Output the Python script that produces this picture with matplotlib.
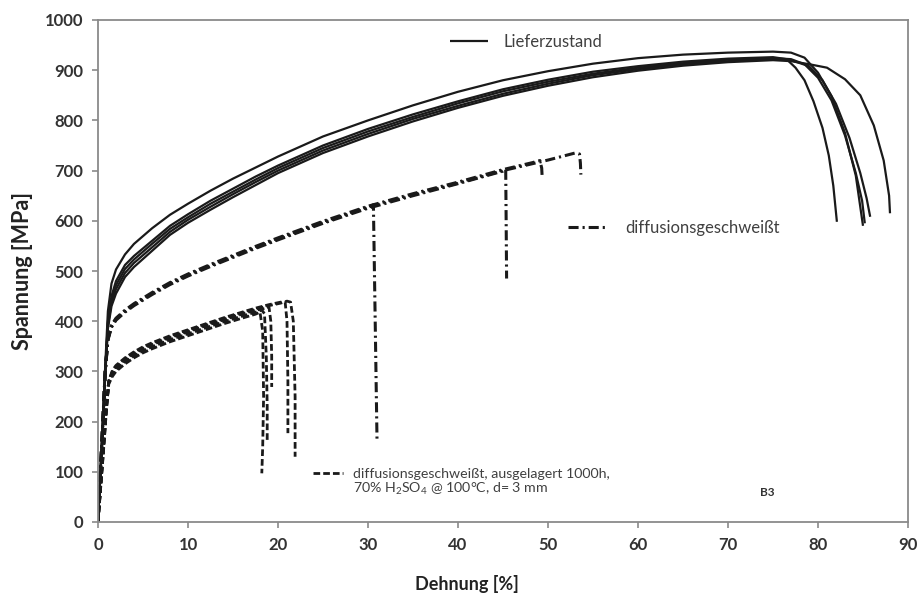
import matplotlib
matplotlib.use("Agg")
import matplotlib.pyplot as plt
from matplotlib.lines import Line2D

plt.rcParams['font.family'] = ['Lato', 'DejaVu Sans']
plt.rcParams['mathtext.fontset'] = 'custom'
plt.rcParams['mathtext.rm'] = 'Lato'

# --- Lieferzustand (solid), rising part on a shared strain grid
lief_x = [0, 0.4, 0.8, 1.1, 1.5, 2, 3, 4, 6, 8, 10, 12.5, 15, 17.5, 20, 25, 30,
          35, 40, 45, 50, 55, 60, 65, 70, 75]
lief_top = [0, 150, 310, 420, 475, 503, 533, 554, 585, 612, 634, 660, 684, 706, 728,
            768, 800, 830, 857, 880, 898, 913, 924, 931, 935, 937]
lief_b1 = [0, 145, 300, 400, 450, 480, 512, 530, 560, 590, 613, 640, 664, 688, 710,
           750, 783, 812, 838, 862, 881, 897, 908, 917, 923, 926]
lief_b2 = [0, 145, 300, 395, 443, 472, 504, 523, 554, 584, 607, 634, 658, 682, 705,
           745, 778, 807, 834, 858, 877, 893, 905, 914, 921, 924]
lief_b3 = [0, 140, 295, 390, 437, 464, 496, 516, 547, 578, 602, 628, 653, 677, 700,
           740, 773, 803, 829, 853, 873, 890, 902, 912, 918, 922]
lief_b4 = [0, 140, 290, 385, 430, 455, 488, 508, 540, 572, 596, 622, 647, 671, 695,
           735, 768, 798, 825, 849, 869, 886, 899, 909, 916, 920]
# failure tails
tail_top_x = [77, 78.5, 80, 81.5, 83, 84.2, 85]
tail_top_y = [935, 925, 895, 848, 775, 690, 590]
tail_b1_x = [76.5, 77.5, 78.5, 79.5, 80.5, 81.2, 81.7, 82.1]
tail_b1_y = [922, 905, 880, 838, 785, 730, 670, 598]
tail_b2_x = [77, 78.5, 80, 81.5, 83, 84.2, 84.9, 85.2]
tail_b2_y = [922, 912, 885, 840, 770, 695, 640, 595]
tail_b3_x = [77, 79, 80.5, 82, 83.5, 84.7, 85.4, 85.8]
tail_b3_y = [920, 908, 880, 833, 765, 695, 645, 608]
tail_b4_x = [77, 79, 81, 83, 84.7, 86.2, 87.3, 87.9, 88]
tail_b4_y = [918, 912, 905, 882, 850, 790, 720, 650, 615]

# --- diffusionsgeschweisst (dash-dot)
dd_x = [0, 0.4, 0.8, 1.1, 1.5, 2, 3, 4, 6, 8, 10, 12.5, 15, 17.5, 20, 25, 30,
        35, 40, 45, 50, 53]
dd1_y = [0, 150, 300, 365, 390, 404, 420, 433, 455, 475, 492, 511, 529, 547, 564, 597, 627]
dd2_y = [0, 148, 298, 362, 388, 402, 418, 431, 453, 473, 490, 509, 527, 545, 562, 595, 625,
         650, 674, 699]
dd3_y = [0, 150, 300, 366, 392, 406, 422, 435, 457, 477, 494, 513, 531, 549, 566, 599, 629,
         654, 677, 702]
dd4_y = [0, 149, 299, 364, 390, 404, 420, 433, 455, 475, 492, 511, 529, 547, 564, 597, 627,
         652, 675, 700, 721, 735]
dd1_tail_x = [30.6, 30.8, 31.0]
dd1_tail_y = [632, 400, 165]
dd2_tail_x = [45.3, 45.35, 45.4]
dd2_tail_y = [703, 600, 485]
dd3_tail_x = [48.3, 49.1, 49.3, 49.35]
dd3_tail_y = [716, 720, 705, 688]
dd4_tail_x = [53.5, 53.6, 53.65]
dd4_tail_y = [733, 715, 692]

# --- diffusionsgeschweisst, ausgelagert (dashed)
da_x = [0, 0.3, 0.6, 0.9, 1.2, 1.6, 2, 3, 4, 5, 6, 8, 10, 12, 14, 16, 17.5, 19, 20.3]
da1_y = [0, 75, 150, 225, 275, 290, 300, 315, 327, 337, 345, 359, 371, 383, 395, 406, 414]
da2_y = [0, 75, 150, 225, 278, 294, 304, 319, 331, 341, 349, 363, 375, 387, 399, 410, 418]
da3_y = [0, 72, 145, 220, 280, 298, 308, 323, 335, 345, 353, 367, 379, 391, 403, 414, 422]
da4_y = [0, 70, 140, 215, 282, 302, 312, 327, 339, 349, 357, 371, 383, 395, 407, 418, 426,
         433, 438]
da5_y = [0, 70, 140, 215, 280, 300, 310, 325, 337, 347, 355, 369, 381, 393, 405, 416, 424,
         431, 436]
da1_tail_x = [18.0, 18.3, 18.4, 18.3, 18.2]
da1_tail_y = [418, 380, 250, 150, 97]
da2_tail_x = [18.2, 18.5, 18.7, 18.8, 18.8]
da2_tail_y = [422, 415, 330, 230, 163]
da3_tail_x = [18.5, 19.0, 19.2, 19.3, 19.3]
da3_tail_y = [425, 428, 400, 330, 269]
da4_tail_x = [20.8, 21.0, 21.1, 21.1]
da4_tail_y = [437, 400, 280, 177]
da5_tail_x = [21.0, 21.4, 21.7, 21.9, 21.9]
da5_tail_y = [440, 438, 400, 250, 130]

fig = plt.figure(figsize=(9.2, 5.94), dpi=100)
ax = fig.add_axes([98 / 920, 1 - 522 / 594, 810 / 920, 502 / 594])

ink = '#1a1a1a'
solid = dict(color=ink, lw=1.6, solid_capstyle='butt')
dashdot = dict(color=ink, lw=2.2, dashes=(3.3, 1.3, 0.7, 1.3))
dashed = dict(color=ink, lw=2.0, dashes=(2.4, 1.1))

for ys, tx, ty in [(lief_b4, tail_b4_x, tail_b4_y), (lief_b3, tail_b3_x, tail_b3_y),
                   (lief_b2, tail_b2_x, tail_b2_y), (lief_b1, tail_b1_x, tail_b1_y),
                   (lief_top, tail_top_x, tail_top_y)]:
    ax.plot(lief_x + tx, ys + ty, **solid)

for ys, tx, ty in [(dd1_y, dd1_tail_x, dd1_tail_y), (dd2_y, dd2_tail_x, dd2_tail_y),
                   (dd3_y, dd3_tail_x, dd3_tail_y), (dd4_y, dd4_tail_x, dd4_tail_y)]:
    ax.plot(dd_x[:len(ys)] + tx, ys + ty, **dashdot)

for ys, tx, ty in [(da1_y, da1_tail_x, da1_tail_y), (da2_y, da2_tail_x, da2_tail_y),
                   (da3_y, da3_tail_x, da3_tail_y), (da4_y, da4_tail_x, da4_tail_y),
                   (da5_y, da5_tail_x, da5_tail_y)]:
    ax.plot(da_x[:len(ys)] + tx, ys + ty, **dashed)

ax.set_xlim(0, 90)
ax.set_ylim(0, 1000)
ax.set_xticks(range(0, 91, 10))
ax.set_yticks(range(0, 1001, 100))
for s in ax.spines.values():
    s.set_color('#8a8a8a')
    s.set_linewidth(1.3)
ax.tick_params(direction='out', length=4.5, width=1.2, color='#8a8a8a',
               labelsize=12, labelcolor='#333333', pad=6)
for lab in ax.get_xticklabels() + ax.get_yticklabels():
    lab.set_fontweight('bold')

ax.set_xlabel('Dehnung [%]', fontsize=13, fontweight='bold', color='#222222')
ax.set_ylabel('Spannung [MPa]', fontsize=15.5, fontweight='bold', color='#222222')
ax.xaxis.set_label_coords((467 - 98) / 810, -0.105)
ax.yaxis.set_label_coords((33 - 98) / 810, 0.5)

# legends placed inside the plot as in the original
leg_kw = dict(frameon=False, labelcolor='#404040', borderpad=0,
              borderaxespad=0, loc='center left')
l1 = ax.legend([Line2D([], [], **solid)], ['Lieferzustand'], fontsize=12,
               handlelength=2.3, handletextpad=0.9,
               bbox_to_anchor=((450 - 98) / 810, (522 - 42) / 502), **leg_kw)
ax.add_artist(l1)
l2 = ax.legend([Line2D([], [], **dashdot)], ['diffusionsgeschweißt'], fontsize=12,
               handlelength=2.35, handletextpad=1.1,
               bbox_to_anchor=((568 - 98) / 810, (522 - 228) / 502), **leg_kw)
ax.add_artist(l2)
ax.legend([Line2D([], [], **dashed)], ['diffusionsgeschweißt, ausgelagert 1000h,'],
          fontsize=10.2, handlelength=2.1, handletextpad=0.75,
          bbox_to_anchor=((313 - 98) / 810, (522 - 474) / 502), **leg_kw)
ax.text((353 - 98) / 810, (522 - 489) / 502,
        '70% H$\\mathregular{_2}$SO$\\mathregular{_4}$ @ 100°C, d= 3 mm',
        transform=ax.transAxes, fontsize=10.2, color='#404040', ha='left', va='center')

ax.text((767 - 98) / 810, (522 - 493) / 502, 'B3', transform=ax.transAxes,
        fontsize=8.5, fontweight='bold', color='#333333', ha='center', va='center')

fig.savefig('out.png', dpi=100, facecolor='white')
